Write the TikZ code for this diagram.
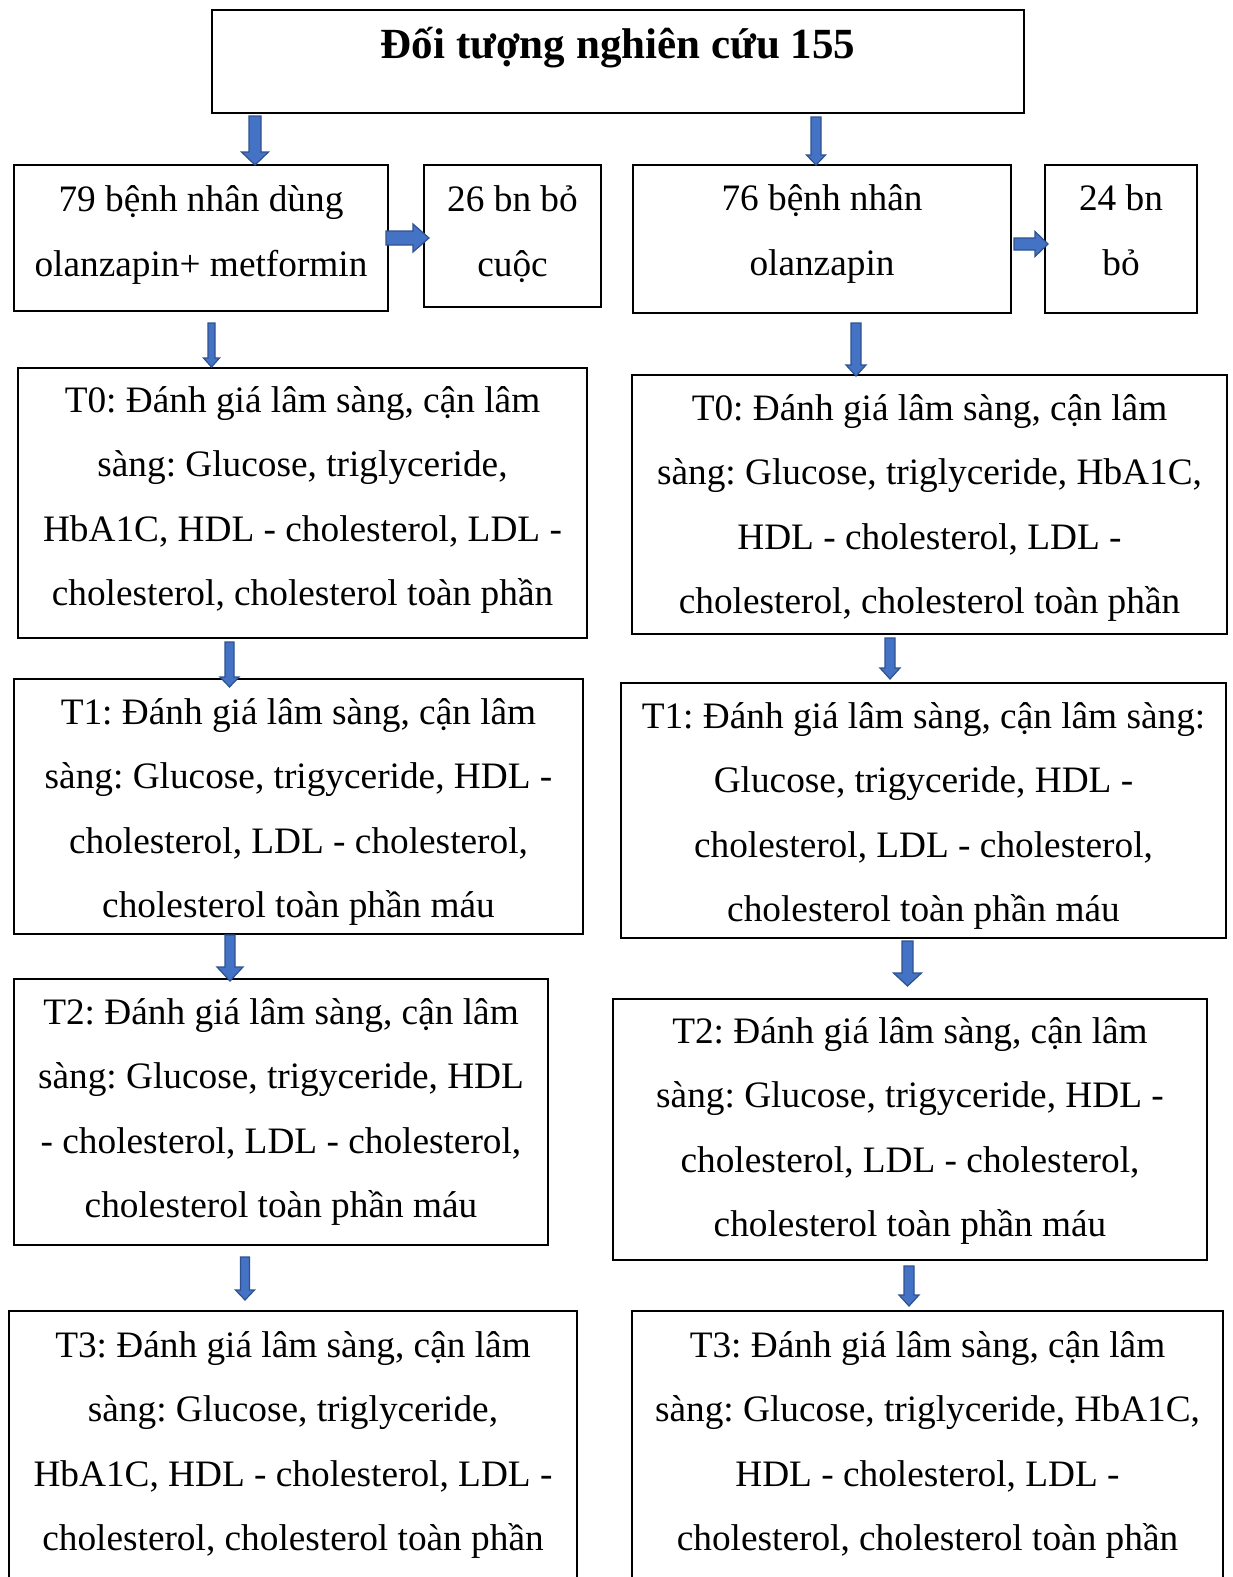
\documentclass[tikz,border=0pt]{standalone}
\usepackage{fontspec}
\setmainfont{Liberation Serif}
\usetikzlibrary{calc}
\definecolor{arrowfill}{HTML}{4472C4}
\definecolor{arrowedge}{HTML}{2F528F}
\frenchspacing

% Block arrow pointing down: #1 x, #2 upper node, #3 gap below it,
% #4 lower node, #5 gap above it, #6 shaft half width, #7 head half width, #8 head length
\newcommand{\vblock}[8]{%
  \path[blockarrow] let \p1=(#2.south), \p2=(#4.north), \n1={#1} in
    ({\n1pt-(#6)},{\y1-(#3)}) -- ({\n1pt+(#6)},{\y1-(#3)}) -- ({\n1pt+(#6)},{\y2+(#5)+(#8)})
    -- ({\n1pt+(#7)},{\y2+(#5)+(#8)}) -- ({\n1pt},{\y2+(#5)}) -- ({\n1pt-(#7)},{\y2+(#5)+(#8)})
    -- ({\n1pt-(#6)},{\y2+(#5)+(#8)}) -- cycle;}
% Block arrow pointing right: #1 y, #2 left node, #3 gap, #4 right node, #5 gap,
% #6 shaft half height, #7 head half height, #8 head length
\newcommand{\hblock}[8]{%
  \path[blockarrow] let \p1=(#2.east), \p2=(#4.west), \n1={-(#1)} in
    ({\x1+(#3)},{\n1pt+(#6)}) -- ({\x2-(#5)-(#8)},{\n1pt+(#6)}) -- ({\x2-(#5)-(#8)},{\n1pt+(#7)})
    -- ({\x2-(#5)},{\n1pt}) -- ({\x2-(#5)-(#8)},{\n1pt-(#7)}) -- ({\x2-(#5)-(#8)},{\n1pt-(#6)})
    -- ({\x1+(#3)},{\n1pt-(#6)}) -- cycle;}

\begin{document}
\begin{tikzpicture}[x=1pt,y=-1pt,
  box/.style={draw=black, line width=1.3pt, anchor=north west, inner sep=0pt, outer sep=0pt},
  boxtext/.style={align=center, inner sep=0pt, font=\fontsize{37.3}{64.4}\selectfont},
  blockarrow/.style={fill=arrowfill, draw=arrowedge, line width=1.2pt, line join=miter}]
\useasboundingbox (0,0) rectangle (1232,1577);
\fill[white] (0,0) rectangle (1232,1577);

% frames
\node[box, minimum width=812pt, minimum height=103pt] (title) at (212,10) {};
\node[box, minimum width=374pt, minimum height=146pt] (l1) at (14,165) {};
\node[box, minimum width=177pt, minimum height=142pt] (lq) at (424,165) {};
\node[box, minimum width=378pt, minimum height=148pt] (r1) at (633,165) {};
\node[box, minimum width=152pt, minimum height=148pt] (rq) at (1045,165) {};
\node[box, minimum width=569pt, minimum height=270pt] (lt0) at (18,368) {};
\node[box, minimum width=595pt, minimum height=259pt] (rt0) at (632,375) {};
\node[box, minimum width=569pt, minimum height=255pt] (lt1) at (14,679) {};
\node[box, minimum width=605pt, minimum height=255pt] (rt1) at (621,683) {};
\node[box, minimum width=534pt, minimum height=266pt] (lt2) at (14,979) {};
\node[box, minimum width=594pt, minimum height=261pt] (rt2) at (613,999) {};
\node[box, minimum width=568pt, minimum height=330pt] (lt3) at (9,1311) {};
\node[box, minimum width=591pt, minimum height=330pt] (rt3) at (632,1311) {};

% texts
\node[boxtext, anchor=base] (title-t) at (title.center |- 0,58)
  {\fontsize{43}{50}\selectfont\bfseries Đối tượng nghiên cứu 155};
\node[boxtext] (l1-t) at (l1.center |- 0,231)
  {\strut 79 bệnh nhân dùng\\olanzapin+ metformin\strut};
\node[boxtext] (lq-t) at (lq.center |- 0,231)
  {\strut 26 bn bỏ\\cuộc\strut};
\node[boxtext] (r1-t) at (r1.center |- 0,230)
  {\strut 76 bệnh nhân\\olanzapin\strut};
\node[boxtext] (rq-t) at (rq.center |- 0,230)
  {\strut 24 bn\\bỏ\strut};
\node[boxtext] (lt0-t) at (lt0.center |- 0,496)
  {\strut T0: Đánh giá lâm sàng, cận lâm\\sàng: Glucose, triglyceride,\\HbA1C, HDL - cholesterol, LDL -\\cholesterol, cholesterol toàn phần\strut};
\node[boxtext] (rt0-t) at (rt0.center |- 0,504)
  {\strut T0: Đánh giá lâm sàng, cận lâm\\sàng: Glucose, triglyceride, HbA1C,\\HDL - cholesterol, LDL -\\cholesterol, cholesterol toàn phần\strut};
\node[boxtext] (lt1-t) at (lt1.center |- 0,808)
  {\strut T1: Đánh giá lâm sàng, cận lâm\\sàng: Glucose, trigyceride, HDL -\\cholesterol, LDL - cholesterol,\\cholesterol toàn phần máu\strut};
\node[boxtext] (rt1-t) at (rt1.center |- 0,812)
  {\strut T1: Đánh giá lâm sàng, cận lâm sàng:\\Glucose, trigyceride, HDL -\\cholesterol, LDL - cholesterol,\\cholesterol toàn phần máu\strut};
\node[boxtext] (lt2-t) at (lt2.center |- 0,1108)
  {\strut T2: Đánh giá lâm sàng, cận lâm\\sàng: Glucose, trigyceride, HDL\\- cholesterol, LDL - cholesterol,\\cholesterol toàn phần máu\strut};
\node[boxtext] (rt2-t) at (rt2.center |- 0,1127)
  {\strut T2: Đánh giá lâm sàng, cận lâm\\sàng: Glucose, trigyceride, HDL -\\cholesterol, LDL - cholesterol,\\cholesterol toàn phần máu\strut};
\node[boxtext] (lt3-t) at (lt3.center |- 0,1441)
  {\strut T3: Đánh giá lâm sàng, cận lâm\\sàng: Glucose, triglyceride,\\HbA1C, HDL - cholesterol, LDL -\\cholesterol, cholesterol toàn phần\strut};
\node[boxtext] (rt3-t) at (rt3.center |- 0,1441)
  {\strut T3: Đánh giá lâm sàng, cận lâm\\sàng: Glucose, triglyceride, HbA1C,\\HDL - cholesterol, LDL -\\cholesterol, cholesterol toàn phần\strut};

% arrows
\vblock{255}{title}{3}{l1}{0}{6}{13.5}{13}
\vblock{816}{title}{4}{r1}{0}{5}{9.5}{10}
\hblock{238}{l1}{-2}{lq}{-5}{7}{14}{16}
\hblock{244}{r1}{3}{rq}{-3}{6}{12.5}{13}
\vblock{211.5}{l1}{12}{lt0}{1}{3.5}{8}{9}
\vblock{856}{r1}{10}{rt0}{-1}{5}{10}{11}
\vblock{229.5}{lt0}{4}{lt1}{-8}{4.5}{9.5}{10}
\vblock{890}{rt0}{4}{rt1}{4}{5}{10}{11}
\vblock{230}{lt1}{1}{lt2}{-2}{5}{13}{14}
\vblock{907.5}{rt1}{3}{rt2}{13}{5.5}{14}{13}
\vblock{245}{lt2}{12}{lt3}{11}{4.5}{9.5}{10}
\vblock{909}{rt2}{6}{rt3}{5}{5}{10}{11}
\end{tikzpicture}
\end{document}
